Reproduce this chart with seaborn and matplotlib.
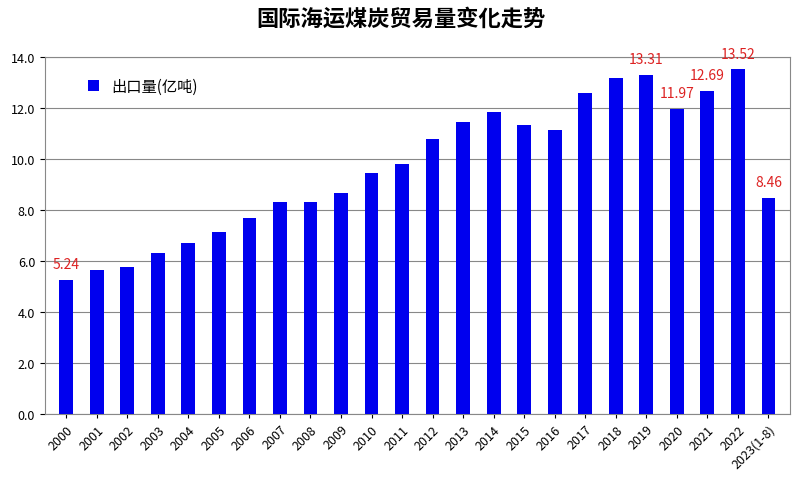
import matplotlib
matplotlib.use("Agg")
import matplotlib.pyplot as plt
from matplotlib import font_manager as fm
import seaborn as sns
import pandas as pd

years = [str(y) for y in range(2000, 2023)] + ["2023(1-8)"]
values = [5.24, 5.65, 5.75, 6.3, 6.7, 7.15, 7.7, 8.3, 8.3, 8.65, 9.45, 9.8, 10.8,
          11.45, 11.85, 11.35, 11.15, 12.6, 13.2, 13.31, 11.97, 12.69, 13.52, 8.46]
labeled = {"2000": "5.24", "2019": "13.31", "2020": "11.97", "2021": "12.69",
           "2022": "13.52", "2023(1-8)": "8.46"}
yticks = [0, 2, 4, 6, 8, 10, 12, 14]

cjk = None
for f in fm.findSystemFonts():
    if "CJK" in f or "cjk" in f.lower():
        try:
            fm.fontManager.addfont(f)
            name = fm.FontProperties(fname=f).get_name()
            if cjk is None or "SC" in name:
                cjk = name
        except Exception:
            pass
plt.rcParams["font.family"] = [cjk or "Noto Sans CJK SC", "DejaVu Sans"]
df = pd.DataFrame({"year": years, "value": values})

fig = plt.figure(figsize=(8.01, 4.85), dpi=100)
ax = fig.add_axes([0.056, 0.145, 0.93, 0.735])
sns.barplot(data=df, x="year", y="value", color="#0000ee", saturation=1,
            width=0.45, ax=ax, label="出口量(亿吨)", zorder=3)
ax.set_ylim(0, 14)
ax.set_yticks(yticks)
ax.set_yticklabels([f"{v:.1f}" for v in yticks], fontsize=9)
ax.set_xlim(-0.7, len(years) - 0.3)
ax.grid(axis="y", color="#888888", linewidth=0.8, zorder=0)
ax.set_xlabel("")
ax.set_ylabel("")
plt.setp(ax.get_xticklabels(), rotation=45, ha="right", fontsize=9,
         rotation_mode="anchor")
ax.tick_params(axis="x", length=3)
for s in ax.spines.values():
    s.set_color("#888888")
for i, y in enumerate(years):
    if y in labeled:
        ax.text(i, values[i] + 0.35, labeled[y], color="#dd2222", ha="center",
                va="bottom", fontsize=10)
ax.legend(loc="upper left", frameon=False, fontsize=11, handlelength=0.7,
          handleheight=0.7, bbox_to_anchor=(0.04, 0.98))
fig.suptitle("国际海运煤炭贸易量变化走势", fontsize=16, fontweight="bold", y=0.985)
fig.savefig("out.png", dpi=100)
